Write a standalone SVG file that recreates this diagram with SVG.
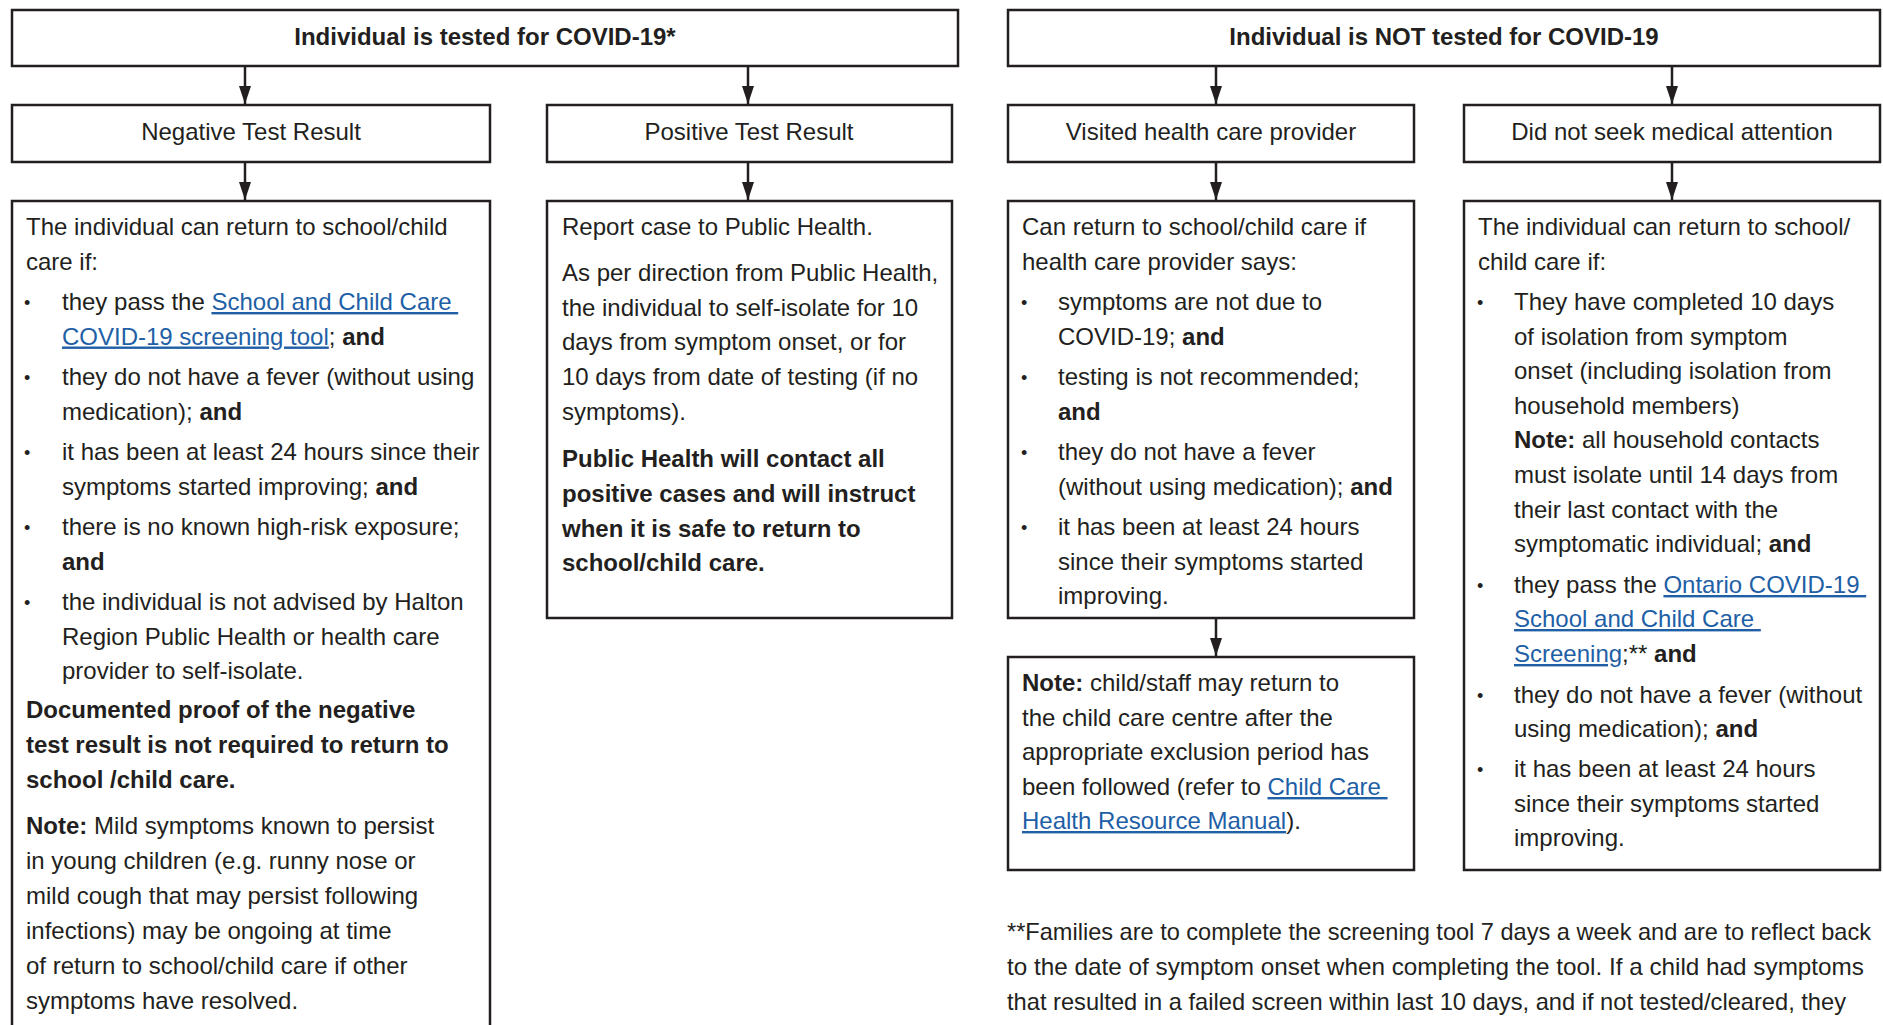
<svg xmlns="http://www.w3.org/2000/svg" width="1883" height="1025" viewBox="0 0 1883 1025">
<style>
.box{fill:#ffffff;stroke:#231f20;stroke-width:2.5}
text{font-family:"Liberation Sans",Arial,sans-serif;font-size:24px;fill:#231f20}
.b{font-weight:bold}
.lk{fill:#1f5fa6;text-decoration:underline}
.c{text-anchor:middle}
.bul{font-size:18px}
.conn line{stroke:#231f20;stroke-width:2.5}
</style>
<defs>
<marker id="ah" viewBox="0 0 12 18" markerWidth="12" markerHeight="18" refX="6" refY="18" orient="0" markerUnits="userSpaceOnUse">
<path d="M0,0 L12,0 L6,18 Z" fill="#231f20"/>
</marker>
</defs>
<rect x="0" y="0" width="1883" height="1025" fill="#ffffff"/>

<g id="connectors" class="conn">
<line x1="245" y1="67" x2="245" y2="104" marker-end="url(#ah)"/>
<line x1="748" y1="67" x2="748" y2="104" marker-end="url(#ah)"/>
<line x1="1216" y1="67" x2="1216" y2="104" marker-end="url(#ah)"/>
<line x1="1672" y1="67" x2="1672" y2="104" marker-end="url(#ah)"/>
<line x1="245" y1="163" x2="245" y2="200" marker-end="url(#ah)"/>
<line x1="748" y1="163" x2="748" y2="200" marker-end="url(#ah)"/>
<line x1="1216" y1="163" x2="1216" y2="200" marker-end="url(#ah)"/>
<line x1="1672" y1="163" x2="1672" y2="200" marker-end="url(#ah)"/>
<line x1="1216" y1="619" x2="1216" y2="656" marker-end="url(#ah)"/>
</g>

<g id="tested">
<rect class="box" x="12" y="10" width="946" height="56"/>
<text class="b c" x="485" y="45">Individual is tested for COVID-19*</text>
</g>

<g id="not-tested">
<rect class="box" x="1008" y="10" width="872" height="56"/>
<text class="b c" x="1444" y="45">Individual is NOT tested for COVID-19</text>
</g>

<g id="negative">
<rect class="box" x="12" y="105" width="478" height="57"/>
<text class="c" x="251" y="140">Negative Test Result</text>
</g>

<g id="positive">
<rect class="box" x="547" y="105" width="405" height="57"/>
<text class="c" x="749" y="140">Positive Test Result</text>
</g>

<g id="visited">
<rect class="box" x="1008" y="105" width="406" height="57"/>
<text class="c" x="1211" y="140">Visited health care provider</text>
</g>

<g id="no-medical">
<rect class="box" x="1464" y="105" width="416" height="57"/>
<text class="c" x="1672" y="140">Did not seek medical attention</text>
</g>

<g id="negative-detail">
<rect class="box" x="12" y="201" width="478" height="860"/>
<text x="26" y="235">The individual can return to school/child</text>
<text x="26" y="269.5">care if:</text>
<text class="bul" x="24" y="309">•</text>
<text x="62" y="310" xml:space="preserve">they pass the <tspan class="lk">School and Child Care </tspan></text>
<text x="62" y="344.5"><tspan class="lk">COVID-19 screening tool</tspan>; <tspan class="b">and</tspan></text>
<text class="bul" x="24" y="384">•</text>
<text x="62" y="385">they do not have a fever (without using</text>
<text x="62" y="420">medication); <tspan class="b">and</tspan></text>
<text class="bul" x="24" y="459">•</text>
<text x="62" y="460">it has been at least 24 hours since their</text>
<text x="62" y="495">symptoms started improving; <tspan class="b">and</tspan></text>
<text class="bul" x="24" y="534">•</text>
<text x="62" y="535">there is no known high-risk exposure;</text>
<text class="b" x="62" y="570">and</text>
<text class="bul" x="24" y="609">•</text>
<text x="62" y="610">the individual is not advised by Halton</text>
<text x="62" y="644.5">Region Public Health or health care</text>
<text x="62" y="679">provider to self-isolate.</text>
<text class="b" x="26" y="718">Documented proof of the negative</text>
<text class="b" x="26" y="753">test result is not required to return to</text>
<text class="b" x="26" y="788">school /child care.</text>
<text x="26" y="834"><tspan class="b">Note:</tspan> Mild symptoms known to persist</text>
<text x="26" y="869">in young children (e.g. runny nose or</text>
<text x="26" y="904">mild cough that may persist following</text>
<text x="26" y="939">infections) may be ongoing at time</text>
<text x="26" y="974">of return to school/child care if other</text>
<text x="26" y="1009">symptoms have resolved.</text>
</g>

<g id="positive-detail">
<rect class="box" x="547" y="201" width="405" height="417"/>
<text x="562" y="235">Report case to Public Health.</text>
<text x="562" y="281">As per direction from Public Health,</text>
<text x="562" y="315.5">the individual to self-isolate for 10</text>
<text x="562" y="350">days from symptom onset, or for</text>
<text x="562" y="385">10 days from date of testing (if no</text>
<text x="562" y="420">symptoms).</text>
<text class="b" x="562" y="467">Public Health will contact all</text>
<text class="b" x="562" y="502">positive cases and will instruct</text>
<text class="b" x="562" y="537">when it is safe to return to</text>
<text class="b" x="562" y="571">school/child care.</text>
</g>

<g id="visited-detail">
<rect class="box" x="1008" y="201" width="406" height="417"/>
<text x="1022" y="235">Can return to school/child care if</text>
<text x="1022" y="269.5">health care provider says:</text>
<text class="bul" x="1021" y="309">•</text>
<text x="1058" y="310">symptoms are not due to</text>
<text x="1058" y="344.5">COVID-19; <tspan class="b">and</tspan></text>
<text class="bul" x="1021" y="384">•</text>
<text x="1058" y="385">testing is not recommended;</text>
<text class="b" x="1058" y="420">and</text>
<text class="bul" x="1021" y="459">•</text>
<text x="1058" y="460">they do not have a fever</text>
<text x="1058" y="495">(without using medication); <tspan class="b">and</tspan></text>
<text class="bul" x="1021" y="534">•</text>
<text x="1058" y="535">it has been at least 24 hours</text>
<text x="1058" y="570">since their symptoms started</text>
<text x="1058" y="604">improving.</text>
</g>

<g id="visited-note">
<rect class="box" x="1008" y="657" width="406" height="213"/>
<text x="1022" y="691"><tspan class="b">Note:</tspan> child/staff may return to</text>
<text x="1022" y="726">the child care centre after the</text>
<text x="1022" y="760">appropriate exclusion period has</text>
<text x="1022" y="795" xml:space="preserve">been followed (refer to <tspan class="lk">Child Care </tspan></text>
<text x="1022" y="829"><tspan class="lk">Health Resource Manual</tspan>).</text>
</g>

<g id="no-medical-detail">
<rect class="box" x="1464" y="201" width="416" height="669"/>
<text x="1478" y="235">The individual can return to school/</text>
<text x="1478" y="269.5">child care if:</text>
<text class="bul" x="1477" y="309">•</text>
<text x="1514" y="310">They have completed 10 days</text>
<text x="1514" y="344.5">of isolation from symptom</text>
<text x="1514" y="379">onset (including isolation from</text>
<text x="1514" y="414">household members)</text>
<text x="1514" y="448"><tspan class="b">Note:</tspan> all household contacts</text>
<text x="1514" y="483">must isolate until 14 days from</text>
<text x="1514" y="518">their last contact with the</text>
<text x="1514" y="552">symptomatic individual; <tspan class="b">and</tspan></text>
<text class="bul" x="1477" y="592">•</text>
<text x="1514" y="593" xml:space="preserve">they pass the <tspan class="lk">Ontario COVID-19 </tspan></text>
<text x="1514" y="627" xml:space="preserve"><tspan class="lk">School and Child Care </tspan></text>
<text x="1514" y="662"><tspan class="lk">Screening</tspan>;** <tspan class="b">and</tspan></text>
<text class="bul" x="1477" y="702">•</text>
<text x="1514" y="703">they do not have a fever (without</text>
<text x="1514" y="737">using medication); <tspan class="b">and</tspan></text>
<text class="bul" x="1477" y="776">•</text>
<text x="1514" y="777">it has been at least 24 hours</text>
<text x="1514" y="812">since their symptoms started</text>
<text x="1514" y="846">improving.</text>
</g>

<g id="footnote">
<text x="1007" y="940" textLength="864" lengthAdjust="spacingAndGlyphs">**Families are to complete the screening tool 7 days a week and are to reflect back</text>
<text x="1007" y="975" textLength="857" lengthAdjust="spacingAndGlyphs">to the date of symptom onset when completing the tool. If a child had symptoms</text>
<text x="1007" y="1010" textLength="839" lengthAdjust="spacingAndGlyphs">that resulted in a failed screen within last 10 days, and if not tested/cleared, they</text>
</g>
</svg>
